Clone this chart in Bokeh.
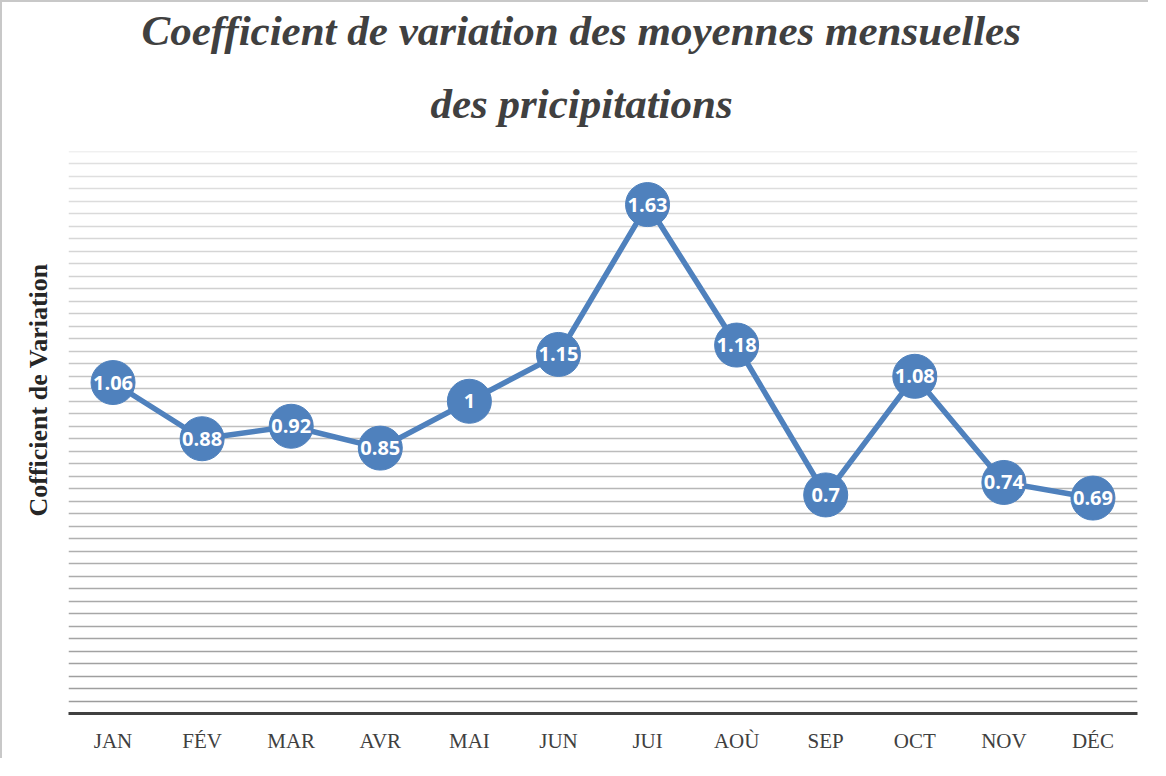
import numpy as np
from bokeh.plotting import figure
from bokeh.models import Title
from bokeh.core.properties import value
from bokeh.embed import file_html
from bokeh.resources import INLINE

months = ["JAN", "FÉV", "MAR", "AVR", "MAI", "JUN", "JUI", "AOÙ", "SEP", "OCT", "NOV", "DÉC"]
cv = [1.06, 0.88, 0.92, 0.85, 1.0, 1.15, 1.63, 1.18, 0.70, 1.08, 0.74, 0.69]
labels = ["1.06", "0.88", "0.92", "0.85", "1", "1.15", "1.63", "1.18", "0.7", "1.08", "0.74", "0.69"]
title_lines = ["Coefficient de variation des moyennes mensuelles", "des pricipitations"]
y_title = "Cofficient de Variation"
y_max = 1.8
grid_step = 0.04

p = figure(x_range=months, y_range=(0, y_max), width=1148, height=758,
           output_backend="svg", toolbar_location=None,
           min_border_left=66, min_border_right=13, min_border_top=149, min_border_bottom=47)
p.styles = {"border-top": "2px solid #c8c8c8", "border-left": "2px solid #c8c8c8"}

p.outline_line_color = None
p.xgrid.grid_line_color = None
p.ygrid.grid_line_color = None

# graded horizontal gridlines
grid_ys = np.arange(1, int(round(y_max / grid_step)) + 1) * grid_step
t = (grid_ys - grid_ys.min()) / (grid_ys.max() - grid_ys.min())
dark, light = np.array([0x9c, 0x9c, 0x9c]), np.array([0xe2, 0xe2, 0xe2])
grid_colors = ["#%02x%02x%02x" % tuple(int(round(c)) for c in dark + (light - dark) * ti) for ti in t]
p.hspan(y=grid_ys, line_color=grid_colors, line_width=1.3)

p.yaxis.visible = False

p.xaxis.axis_line_width = 3
p.xaxis.axis_line_color = "#404040"
p.xaxis.major_tick_line_color = None
p.xaxis.major_label_text_font = "Liberation Serif"
p.xaxis.major_label_text_font_size = "21px"
p.xaxis.major_label_text_color = "#404040"
p.xaxis.major_label_standoff = 9

def style_title(tt, offset, standoff, line_height):
    tt.text_font = "Liberation Serif"
    tt.text_font_style = "bold italic"
    tt.text_font_size = "43px"
    tt.text_color = "#404040"
    tt.align = "left"
    tt.offset = offset
    tt.standoff = standoff
    tt.text_line_height = line_height
    return tt

p.title.text = title_lines[0]
style_title(p.title, 73, 0, 0.46)
p.add_layout(style_title(Title(text=title_lines[1]), 362, 49, 1.2), "above")

# vertical axis title
yt = Title(text=y_title, align="left", offset=197, standoff=32, text_font="Liberation Serif",
           text_font_style="bold", text_font_size="26px", text_color="#262626")
p.add_layout(yt, "left")

blue = "#4f81bd"
p.line(months, cv, line_width=5.5, line_color=blue)
p.scatter(months, cv, size=44, fill_color=blue, line_color=blue)
p.text(x=months, y=cv, text=labels, text_font=value("Open Sans"), text_font_style="bold",
       text_font_size="20px", text_color="white", text_align="center", text_baseline="middle")

open("out.html", "w").write(file_html(p, INLINE))
